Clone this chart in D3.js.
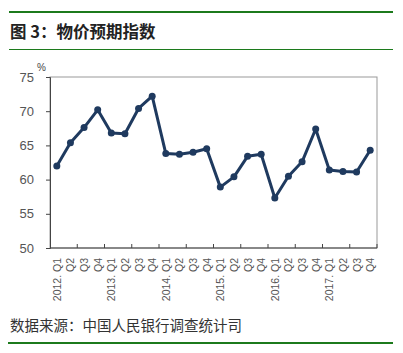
<!DOCTYPE html>
<html>
<head>
<meta charset="utf-8">
<script src="https://cdn.jsdelivr.net/npm/d3@7"></script>
<style>
  body { margin: 0; background: #fff; }
  svg { display: block; }
</style>
</head>
<body>
<div id="chart"></div>
<script>
const years = ['2012', '2013', '2014', '2015', '2016', '2017'];
const quarters = ['Q1', 'Q2', 'Q3', 'Q4'];
const values = [62.0, 65.4, 67.6, 70.2, 66.8, 66.7, 70.4, 72.2,
                63.8, 63.7, 64.0, 64.5, 58.9, 60.4, 63.4, 63.7,
                57.3, 60.5, 62.6, 67.4, 61.4, 61.2, 61.1, 64.3];
const yTicks = [50, 55, 60, 65, 70, 75];

const labels = [];
years.forEach(y => quarters.forEach((q, i) => labels.push(i === 0 ? y + '. ' + q : q)));

const width = 403, height = 353;
const margin = { left: 50, right: 26, top: 77, bottom: 105 };
const x0 = margin.left, x1 = width - margin.right;
const y0 = margin.top, y1 = height - margin.bottom;

const svg = d3.select('#chart').append('svg')
  .attr('width', width)
  .attr('height', height);

// header / footer rules
svg.append('line').attr('x1', 9).attr('x2', 393).attr('y1', 12).attr('y2', 12)
  .attr('stroke', '#1c7a1c').attr('stroke-width', 2);
svg.append('line').attr('x1', 9).attr('x2', 393).attr('y1', 49.5).attr('y2', 49.5)
  .attr('stroke', '#1c7a1c').attr('stroke-width', 1);
svg.append('line').attr('x1', 8).attr('x2', 393).attr('y1', 343).attr('y2', 343)
  .attr('stroke', '#1c7a1c').attr('stroke-width', 2);

svg.append('text')
  .attr('x', 10).attr('y', 38)
  .attr('font-family', '"Noto Sans CJK SC", sans-serif')
  .attr('font-weight', 'bold')
  .attr('font-size', 16.5)
  .attr('fill', '#222')
  .text('图 3：物价预期指数');

svg.append('text')
  .attr('x', 10).attr('y', 331)
  .attr('font-family', '"Noto Sans CJK SC", sans-serif')
  .attr('font-size', 14.5)
  .attr('fill', '#333')
  .text('数据来源：中国人民银行调查统计司');

const idx = d3.range(labels.length);
const x = d3.scaleBand().domain(idx).range([x0, x1]);
const y = d3.scaleLinear().domain([50, 75]).range([y1, y0]);
const cx = i => x(i) + x.bandwidth() / 2;

// plot frame
svg.append('rect')
  .attr('x', x0).attr('y', y0)
  .attr('width', x1 - x0).attr('height', y1 - y0)
  .attr('fill', 'none').attr('stroke', '#999').attr('stroke-width', 1);

// y axis
const yAxis = svg.append('g')
  .attr('transform', `translate(${x0},0)`)
  .call(d3.axisLeft(y).tickValues(yTicks).tickSize(4).tickPadding(12));
yAxis.select('.domain').attr('stroke', '#444');
yAxis.selectAll('.tick line').attr('stroke', '#444');
yAxis.selectAll('text')
  .attr('font-family', '"Liberation Sans", sans-serif')
  .attr('font-size', 13)
  .attr('fill', '#555');

svg.append('text')
  .attr('x', 37).attr('y', 71)
  .attr('font-family', '"Liberation Sans", sans-serif')
  .attr('font-size', 10)
  .attr('fill', '#444')
  .text('%');

// x axis: ticks every two quarters pointing inward
const xAxis = svg.append('g')
  .attr('transform', `translate(0,${y1})`);
xAxis.append('line').attr('x1', x0).attr('x2', x1)
  .attr('stroke', '#444');
xAxis.selectAll('.tk')
  .data(idx.filter(i => i % 2 === 1))
  .enter().append('line')
  .attr('class', 'tk')
  .attr('x1', i => x(i) + x.bandwidth()).attr('x2', i => x(i) + x.bandwidth())
  .attr('y1', 0).attr('y2', -4)
  .attr('stroke', '#444');
xAxis.selectAll('.lbl')
  .data(idx)
  .enter().append('text')
  .attr('class', 'lbl')
  .attr('transform', i => `translate(${cx(i) + 4},10) rotate(-90)`)
  .attr('text-anchor', 'end')
  .attr('font-family', '"Liberation Sans", sans-serif')
  .attr('font-size', 10.5)
  .attr('fill', '#555')
  .text(i => labels[i]);

// series
const line = d3.line()
  .x((d, i) => cx(i))
  .y(d => y(d));

svg.append('path')
  .datum(values)
  .attr('d', line)
  .attr('fill', 'none')
  .attr('stroke', '#1f3a5f')
  .attr('stroke-width', 3)
  .attr('stroke-linejoin', 'round');

svg.selectAll('.pt')
  .data(values)
  .enter().append('circle')
  .attr('class', 'pt')
  .attr('cx', (d, i) => cx(i))
  .attr('cy', d => y(d))
  .attr('r', 3.5)
  .attr('fill', '#1f3a5f');
</script>
</body>
</html>
